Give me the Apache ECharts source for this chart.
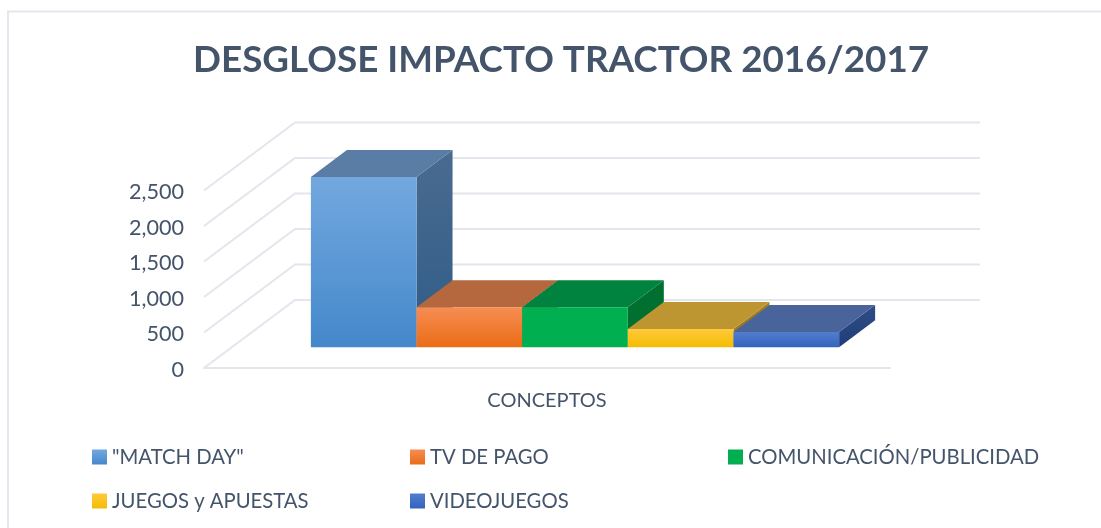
<!DOCTYPE html>
<html>
<head>
<meta charset="utf-8">
<style>html,body{margin:0;padding:0;background:#fff}#c{width:1101px;height:528px}</style>
<script src="https://cdn.jsdelivr.net/npm/echarts@6/dist/echarts.min.js"></script>
</head>
<body>
<div id="c"></div>
<script>
const titleText = 'DESGLOSE IMPACTO TRACTOR 2016/2017';
const categories = ['CONCEPTOS'];
const seriesNames = ['"MATCH DAY"', 'TV DE PAGO', 'COMUNICACIÓN/PUBLICIDAD', 'JUEGOS y APUESTAS', 'VIDEOJUEGOS'];
const seriesValues = [2400, 565, 565, 258, 215];
const yTicks = [0, 500, 1000, 1500, 2000, 2500];

const frontTop = ['#73A8DF', '#F68D53', '#00B050', '#FFC93C', '#527DCD'];
const frontBottom = ['#4488CB', '#EA6C16', '#00B050', '#F4BD00', '#3364BD'];
const topColors = ['#5A7DA6', '#B5673E', '#00833F', '#BE9631', '#49649A'];
const sideTop = ['#4A6B90', '#A85C34', '#006F30', '#A67F22', '#2F4C86'];
const sideBottom = ['#2F5C88', '#8F4A20', '#006F30', '#97741A', '#1F3E78'];

const TEXT = '#44546A', GRIDC = '#E3E6EC', FONT = 'Lato, Carlito, sans-serif';
const wallDx = 91, wallDy = -68, barShiftX = 28, barShiftY = -20.7, depthX = 36, depthY = -27, barWidthRatio = 0.154;

function vGrad(a, b) {
  return { type: 'linear', x: 0, y: 0, x2: 0, y2: 1, colorStops: [{ offset: 0, color: a }, { offset: 1, color: b }] };
}

const gridSeries = {
  type: 'custom', coordinateSystem: 'cartesian2d', silent: true, z: 1,
  data: yTicks.map(t => [0, t]),
  renderItem(params, api) {
    const y = api.coord([0, api.value(1)])[1], cs = params.coordSys;
    const x0 = cs.x, x1 = cs.x + cs.width;
    return {
      type: 'polyline',
      shape: { points: [[x0, y], [x0 + wallDx, y + wallDy], [x1 + wallDx - 1, y + wallDy]] },
      style: { stroke: GRIDC, lineWidth: 2, fill: null }
    };
  }
};

function barSeries(i) {
  return {
    type: 'custom', name: seriesNames[i], coordinateSystem: 'cartesian2d', silent: true, z: 2 + i,
    itemStyle: { color: vGrad(frontTop[i], frontBottom[i]) },
    data: [[0, seriesValues[i]]],
    renderItem(params, api) {
      const w = api.size([1, 0])[0] * barWidthRatio;
      const base = api.coord([0, 0]), top = api.coord([0, api.value(1)]);
      const l = base[0] + barShiftX + (i - seriesNames.length / 2) * w, r = l + w;
      const b = base[1] + barShiftY, t = top[1] + barShiftY;
      return {
        type: 'group',
        children: [
          { type: 'polygon', shape: { points: [[r, t], [r + depthX, t + depthY], [r + depthX, b + depthY], [r, b]] },
            style: { fill: vGrad(sideTop[i], sideBottom[i]) } },
          { type: 'polygon', shape: { points: [[l, t], [l + depthX, t + depthY], [r + depthX, t + depthY], [r, t]] },
            style: { fill: topColors[i] } },
          { type: 'rect', shape: { x: l, y: t, width: w, height: b - t },
            style: { fill: vGrad(frontTop[i], frontBottom[i]) } }
        ]
      };
    }
  };
}

function legendCol(left, names) {
  return {
    left, top: 442, orient: 'vertical', itemWidth: 15, itemHeight: 15, itemGap: 24,
    icon: 'rect', data: names, selectedMode: false,
    textStyle: { color: TEXT, fontFamily: FONT, fontSize: 20.3, padding: [0, 0, 0, 0] }
  };
}

const chart = echarts.init(document.getElementById('c'), null, { renderer: 'canvas' });
chart.setOption({
  animation: false,
  backgroundColor: '#fff',
  title: { text: titleText, left: 188, top: 37, textStyle: { color: TEXT, fontFamily: FONT, fontWeight: 'bold', fontSize: 36.8 } },
  grid: { left: 204, right: 211, top: 190.5, bottom: 160 },
  xAxis: {
    type: 'category', data: categories,
    axisLine: { lineStyle: { color: GRIDC, width: 2 } }, axisTick: { show: false },
    axisLabel: { color: TEXT, fontFamily: FONT, fontSize: 20, margin: 23 }
  },
  yAxis: {
    type: 'value', min: 0, max: 2500, interval: 500,
    axisLine: { show: false }, axisTick: { show: false }, splitLine: { show: false },
    axisLabel: {
      margin: 20,
      formatter: v => '{t|' + v.toLocaleString('en-US') + '}',
      rich: { t: { color: TEXT, fontFamily: FONT, fontSize: 21.6, padding: [4, 0, 0, 0] } }
    }
  },
  legend: [legendCol(87, [seriesNames[0], seriesNames[3]]), legendCol(405, [seriesNames[1], seriesNames[4]]), legendCol(723, [seriesNames[2]])],
  series: [gridSeries].concat(seriesNames.map((_, i) => barSeries(i))),
  graphic: [
    { type: 'polyline', silent: true, shape: { points: [[8, 528], [8, 11.5], [1101, 11.5]] }, style: { stroke: '#E3E8EE', lineWidth: 2, fill: null } }
  ]
});
</script>
</body>
</html>
